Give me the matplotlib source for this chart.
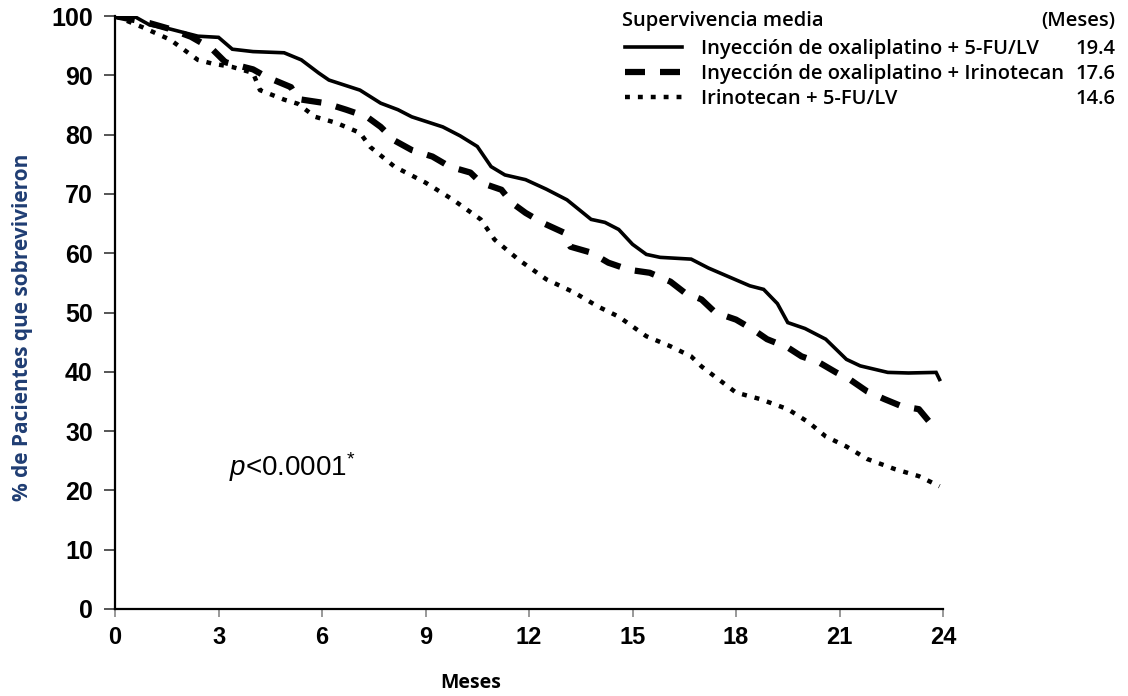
import matplotlib
matplotlib.use('Agg')
import matplotlib.pyplot as plt

plt.rcParams['font.family'] = ['Liberation Sans', 'DejaVu Sans']
plt.rcParams['mathtext.fontset'] = 'custom'
plt.rcParams['mathtext.rm'] = 'Liberation Sans'
plt.rcParams['mathtext.it'] = 'Liberation Sans:italic'

# survival curves (months, % alive)
oxa_fu_t = [0, 0.6, 1.0, 1.6, 2.0, 2.4, 3.0, 3.4, 4.0, 4.9, 5.4, 5.9, 6.2, 7.1, 7.7, 8.2, 8.6, 9.5, 10.0,
            10.5, 10.9, 11.3, 11.9, 12.5, 13.1, 13.8, 14.2, 14.6, 15.0, 15.4, 15.8, 16.7, 17.2, 17.8,
            18.4, 18.8, 19.2, 19.5, 20.0, 20.6, 21.2, 21.6, 22.4, 23.0, 23.8, 23.9]
oxa_fu_s = [100, 99.8, 98.5, 97.8, 97.2, 96.6, 96.4, 94.4, 94.0, 93.8, 92.6, 90.4, 89.2, 87.5, 85.3, 84.2,
            83.0, 81.3, 79.8, 78.0, 74.6, 73.2, 72.4, 70.8, 69.0, 65.7, 65.2, 64.0, 61.5, 59.8, 59.3,
            59.0, 57.5, 56.0, 54.5, 53.9, 51.5, 48.3, 47.3, 45.5, 42.1, 41.0, 39.9, 39.8, 39.9, 38.7]

oxa_iri_t = [0, 1.0, 1.6, 2.2, 2.8, 3.2, 4.0, 4.4, 5.1, 5.3, 6.1, 6.7, 7.3, 7.7, 8.1, 8.6, 9.2, 9.7, 10.3,
             10.6, 11.2, 11.5, 11.9, 12.4, 13.0, 13.2, 13.8, 14.3, 14.9, 15.5, 16.1, 16.5, 17.0, 17.4,
             18.0, 18.5, 18.9, 19.5, 19.9, 20.4, 20.9, 21.3, 21.8, 22.3, 22.8, 23.3, 23.6]
oxa_iri_s = [100, 98.8, 97.8, 96.5, 94.5, 92.2, 91.0, 89.7, 88.0, 86.0, 85.3, 84.2, 83.0, 81.3, 79.0,
             77.4, 76.3, 74.6, 73.6, 71.9, 70.7, 68.5, 66.8, 65.1, 63.5, 61.1, 60.1, 58.4, 57.2, 56.7,
             55.2, 53.4, 52.2, 50.0, 48.8, 47.1, 45.5, 44.1, 42.6, 41.6, 39.9, 38.7, 36.7, 35.4, 34.2,
             33.7, 31.6]

iri_fu_t = [0, 0.8, 1.6, 2.4, 2.8, 3.4, 4.0, 4.2, 4.9, 5.3, 5.8, 6.4, 7.1, 7.4, 8.1, 9.0, 9.8, 10.6, 11.0,
            11.7, 12.5, 13.3, 14.0, 14.6, 15.4, 16.1, 16.7, 17.0, 17.5, 18.0, 18.7, 19.5, 20.1, 20.6,
            21.2, 21.8, 22.6, 23.3, 23.9]
iri_fu_s = [100, 98.1, 96.0, 92.6, 92.0, 91.4, 90.4, 87.5, 85.9, 85.2, 83.0, 82.0, 80.3, 77.9, 74.6,
            71.9, 69.0, 65.7, 62.3, 58.9, 55.6, 53.4, 51.0, 49.3, 46.0, 44.3, 42.6, 40.9, 38.7, 36.5,
            35.4, 33.7, 31.5, 29.1, 27.4, 25.3, 23.6, 22.4, 20.7]

labels = ['Inyección de oxaliplatino + 5-FU/LV',
          'Inyección de oxaliplatino + Irinotecan',
          'Irinotecan + 5-FU/LV']
median_months = ['19.4', '17.6', '14.6']

sans = ['Open Sans', 'DejaVu Sans']
leg_size = 14.5

fig = plt.figure(figsize=(11.28, 6.96), dpi=100)
ax = fig.add_axes([0.102, 0.125, 0.734, 0.852])

l1, = ax.plot(oxa_fu_t, oxa_fu_s, color='black', lw=2.6, solid_joinstyle='miter')
l2, = ax.plot(oxa_iri_t, oxa_iri_s, color='black', lw=4.5, linestyle=(0, (3.2, 2.4)))
l3, = ax.plot(iri_fu_t, iri_fu_s, color='black', lw=3.2, linestyle=(0, (1.1, 1.8)))

ax.set_xlim(0, 24)
ax.set_ylim(0, 100)
ax.set_xticks(range(0, 25, 3))
ax.set_yticks(range(0, 101, 10))
ax.spines['top'].set_visible(False)
ax.spines['right'].set_visible(False)
ax.spines['left'].set_linewidth(1.6)
ax.spines['bottom'].set_linewidth(1.6)
ax.tick_params(axis='y', length=8, width=1.4, color='#555555', pad=8, labelsize=18)
ax.tick_params(axis='x', length=6, width=1.2, color='#888888', pad=6, labelsize=17)
for lab in ax.get_xticklabels() + ax.get_yticklabels():
    lab.set_fontweight('bold')

ax.set_xlabel('Meses', family=sans, fontweight='bold', fontsize=14)
ax.xaxis.set_label_coords(0.429, -0.108)
ax.set_ylabel('% de Pacientes que sobrevivieron', family=sans,
              fontweight='bold', fontsize=15, color='#1f3d73')
ax.yaxis.set_label_coords(-0.099, 0.475)

ax.text(3.3, 24, r'$\mathit{p}$<0.0001$^{*}$', fontsize=20, va='center', ha='left')

leg = ax.legend([l1, l2, l3], labels, loc='upper left', bbox_to_anchor=(0.616, 0.961),
                frameon=False, prop={'family': sans, 'weight': 'semibold', 'size': leg_size},
                borderpad=0, borderaxespad=0, handlelength=2.85, handletextpad=0.9, labelspacing=0.25)

fig.text(622 / 1128, 1 - 21 / 696, 'Supervivencia media', ha='left', va='center', family=sans,
         fontweight='semibold', fontsize=leg_size)
fig.text(0.989, 1 - 21 / 696, '(Meses)', ha='right', va='center', family=sans,
         fontweight='semibold', fontsize=leg_size)

fig.canvas.draw()
inv = fig.transFigure.inverted()
for txt, m in zip(leg.get_texts(), median_months):
    bb = txt.get_window_extent()
    yy = inv.transform((0, (bb.y0 + bb.y1) / 2))[1]
    fig.text(0.989, yy, m, ha='right', va='center', family=sans,
             fontweight='semibold', fontsize=leg_size)

fig.savefig('out.png', dpi=100)
